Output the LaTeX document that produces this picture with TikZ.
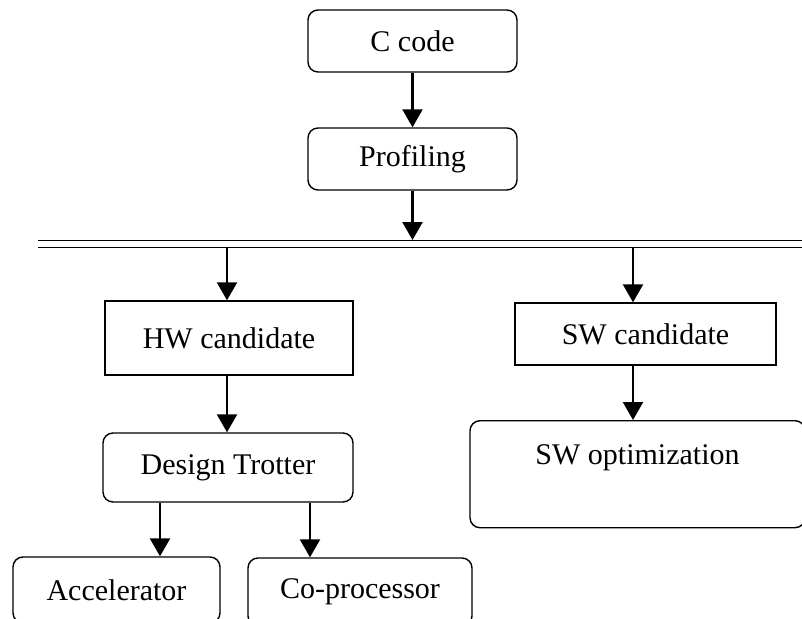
\documentclass[tikz,border=0pt]{standalone}
\usepackage{fontspec}
\setmainfont{Liberation Serif}
\usetikzlibrary{arrows.meta}

\tikzset{
  txt/.style={font=\fontsize{30}{36}\selectfont, inner sep=0pt},
  rbox/.style={txt, draw, line width=1.4pt, rounded corners=10pt},
  sbox/.style={txt, draw, line width=1.4pt},
  flow/.style={line width=2.4pt, -{Triangle[width=20pt,length=18pt]}},
  bus/.style={line width=1.5pt, double, double distance=5.1pt}
}

\begin{document}
\begin{tikzpicture}[x=1pt,y=-1pt]
        \useasboundingbox (0,0) rectangle (802,618);
        \clip (0,0) rectangle (802,618);
        % top of the flow
        \node[rbox, minimum width=209pt, minimum height=62pt] (ccode) at (412.5,41) {C code};
        \node[rbox, minimum width=209pt, minimum height=62pt] (prof) at (412.5,159) {Profiling};
        % split bus
        \coordinate (busL) at (38,244);
        \coordinate (busR) at (812,244);
        \draw[bus] (busL) -- (busR);
        \coordinate (proftap) at (412.5,240);
        \coordinate (hwtap) at (227,248);
        \coordinate (swtap) at (633,248);
        % hardware side
        \node[sbox, minimum width=248pt, minimum height=74pt] (hwcand) at (229,338) {HW candidate};
        \node[rbox, minimum width=250pt, minimum height=69pt] (dtrot) at (228,467.5) {Design Trotter};
        \node[rbox, minimum width=207pt, minimum height=66pt] (accel) at (116.5,590) {Accelerator};
        \node[rbox, minimum width=224pt, minimum height=68pt] (coproc) at (360,592) {Co-processor};
        % software side
        \node[sbox, minimum width=261pt, minimum height=62pt] (swcand) at (645.5,334) {SW candidate};
        \node[rbox, anchor=north, minimum width=335pt, text height=44pt, text depth=63pt] (swopt) at (637.5,420) {SW optimization};
        % connectors
        \draw[flow] (ccode.south) -- (prof.north);
        \draw[flow] (prof.south) -- (proftap);
        \draw[flow] (hwtap) -- (hwtap |- hwcand.north);
        \draw[flow] (hwcand.south -| hwtap) -- (dtrot.north -| hwtap);
        \draw[flow] ([xshift=-68pt]dtrot.south) -- ([xshift=-68pt]dtrot.south |- accel.north);
        \draw[flow] ([xshift=82pt]dtrot.south) -- ([xshift=82pt]dtrot.south |- coproc.north);
        \draw[flow] (swtap) -- (swtap |- swcand.north);
        \draw[flow] (swcand.south -| swtap) -- (swopt.north -| swtap);
    \end{tikzpicture}
\end{document}
